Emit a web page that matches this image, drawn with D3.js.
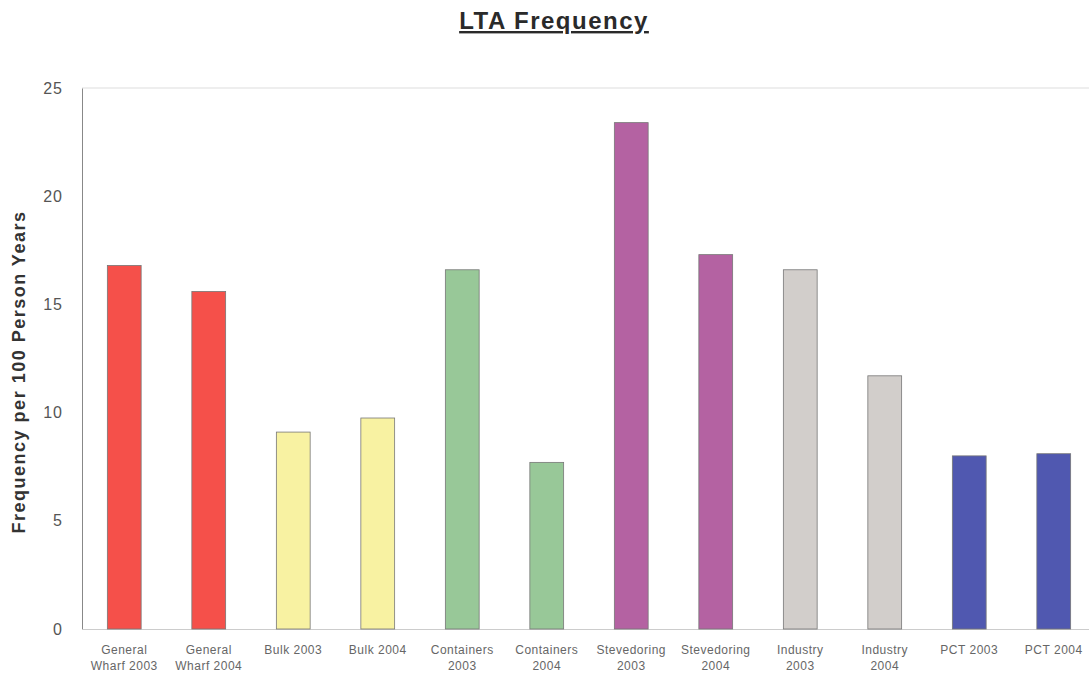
<!DOCTYPE html>
<html>
<head>
<meta charset="utf-8">
<script src="https://cdn.jsdelivr.net/npm/d3@7"></script>
<style>
  body { margin: 0; background: #fff; }
  text { font-family: "Liberation Sans", Arial, sans-serif; }
</style>
</head>
<body>
<div id="chart"></div>
<script>
// Data
const categories = [
    ["General", "Wharf 2003"], ["General", "Wharf 2004"], ["Bulk 2003"], ["Bulk 2004"],
    ["Containers", "2003"], ["Containers", "2004"], ["Stevedoring", "2003"], ["Stevedoring", "2004"],
    ["Industry", "2003"], ["Industry", "2004"], ["PCT 2003"], ["PCT 2004"]
];
const values = [16.8, 15.6, 9.1, 9.75, 16.6, 7.7, 23.4, 17.3, 16.6, 11.7, 8.0, 8.1];
const barColors = ["#f5504a", "#f5504a", "#f8f2a2", "#f8f2a2", "#98c898", "#98c898",
                   "#b462a2", "#b462a2", "#d2cecb", "#d2cecb", "#5058b0", "#5058b0"];
const yTicks = [0, 5, 10, 15, 20, 25];

let width = 1089, height = 678;
let plot = {left: 82, right: 1096, top: 88, bottom: 629};

let svg = d3.select("#chart")
    .append("svg")
    .attr("width", width)
    .attr("height", height);

// Title
svg.append("text")
    .attr("x", 554)
    .attr("y", 29)
    .style("text-anchor", "middle")
    .style("font-size", "24px")
    .style("font-weight", "bold")
    .style("letter-spacing", "1.5px")
    .style("text-decoration", "underline")
    .style("fill", "#2a2a2a")
    .text("LTA Frequency");

const labels = categories.map(c => c.join(" "));

const x = d3.scaleBand()
    .domain(labels)
    .range([plot.left, plot.right])
    .paddingInner(0.6)
    .paddingOuter(0.3);

const y = d3.scaleLinear()
    .domain([0, 25])
    .range([plot.bottom, plot.top]);

// Plot frame: top line
svg.append("line")
    .attr("x1", plot.left).attr("x2", width)
    .attr("y1", plot.top).attr("y2", plot.top)
    .style("stroke", "#ddd");

// Y axis
let yAxis = svg.append("g")
    .attr("transform", `translate(${plot.left}, 0)`)
    .call(d3.axisLeft(y).tickValues(yTicks).tickSize(0).tickPadding(19));
yAxis.select(".domain").style("stroke", "#888");
yAxis.selectAll("text")
    .style("font-size", "16px")
    .style("letter-spacing", "1px")
    .style("fill", "#555");

// X axis baseline
let xAxis = svg.append("g")
    .attr("transform", `translate(0, ${plot.bottom})`)
    .call(d3.axisBottom(x).tickSize(0).tickFormat(""));
xAxis.select(".domain").style("stroke", "#ccc");

// Category labels (two lines)
svg.selectAll(".xlab")
    .data(categories)
    .enter()
    .append("text")
    .attr("class", "xlab")
    .attr("x", (d, i) => x(labels[i]) + x.bandwidth() / 2)
    .attr("y", plot.bottom + 25)
    .style("text-anchor", "middle")
    .style("font-size", "12px")
    .style("letter-spacing", "0.5px")
    .style("fill", "#666")
    .each(function(d) {
        d.forEach((line, j) => {
            d3.select(this).append("tspan")
                .attr("x", d3.select(this).attr("x"))
                .attr("dy", j === 0 ? 0 : "1.35em")
                .text(line);
        });
    });

// Bars
svg.selectAll(".bar")
    .data(values)
    .enter()
    .append("rect")
    .attr("class", "bar")
    .attr("x", (d, i) => x(labels[i]))
    .attr("y", d => y(d))
    .attr("width", x.bandwidth())
    .attr("height", d => y(0) - y(d))
    .style("fill", (d, i) => barColors[i])
    .style("stroke", "#777")
    .style("stroke-width", 0.8);

// Y axis title
svg.append("text")
    .attr("transform", "translate(25, 372) rotate(-90)")
    .style("text-anchor", "middle")
    .style("font-size", "18px")
    .style("font-weight", "bold")
    .style("letter-spacing", "1.5px")
    .style("fill", "#333")
    .text("Frequency per 100 Person Years");
</script>
</body>
</html>
